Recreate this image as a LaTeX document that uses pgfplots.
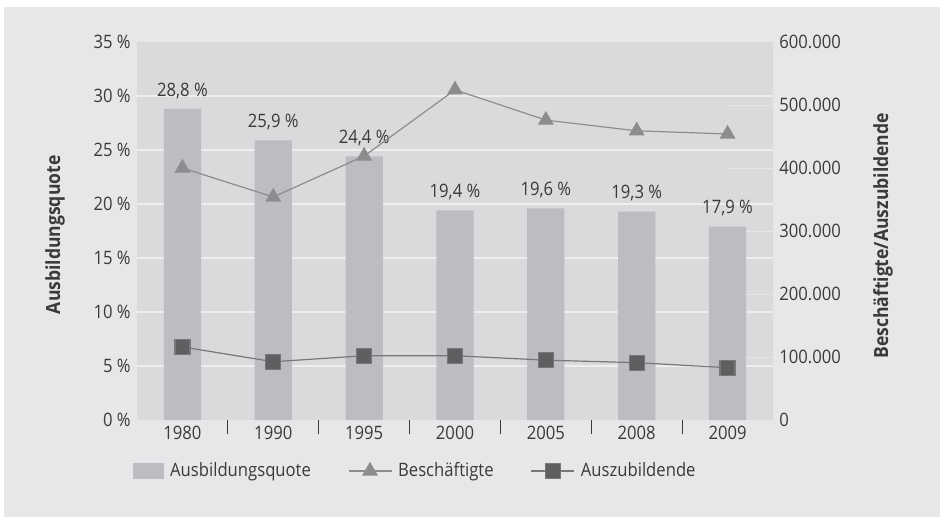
\documentclass[border=0pt]{standalone}
\usepackage{pgfplots}
\pgfplotsset{compat=1.18}
\usepackage{fontspec}
\setmainfont{Open Sans}[FakeStretch=0.9]

\definecolor{outerbg}{HTML}{E6E7E9}
\definecolor{plotbg}{HTML}{D9DADC}
\definecolor{gridc}{HTML}{EDEEF0}
\definecolor{barcol}{HTML}{BCBDC0}
\definecolor{trigray}{HTML}{8D8D8F}
\definecolor{sqgray}{HTML}{5E5F61}
\definecolor{txt}{HTML}{3A3A3A}

\pgfkeys{/pgf/number format/assume math mode=true}
\pgfplotsset{
  every tick label/.append style={text=txt},
  every axis label/.append style={text=txt, font=\fontsize{19.5}{22}\selectfont\bfseries},
  wideline legend/.style={legend image code/.code={%
    \draw[mark repeat=2,mark phase=2,##1] plot coordinates {(0pt,0pt) (21.5pt,0pt) (43pt,0pt)};}},
  bar legend/.style={legend image code/.code={%
    \fill[barcol] (0pt,-8pt) rectangle (31pt,8pt);}},
}

\begin{document}
\fontsize{18.5}{22}\selectfont
\begin{tikzpicture}[x=1pt,y=1pt]
\fill[white] (0,0) rectangle (940,517);
\fill[outerbg] (4,0) rectangle (940,510);
\useasboundingbox (0,0) rectangle (940,517);

% left axis: Ausbildungsquote (bars)
\begin{axis}[
  at={(137pt,97pt)}, anchor=south west,
  width=636pt, height=378pt, scale only axis,
  xmin=-0.5, xmax=6.5, ymin=0, ymax=35,
  axis line style={draw=none},
  axis background/.style={fill=plotbg},
  xtick={0,...,6},
  xticklabels={1980,1990,1995,2000,2005,2008,2009},
  xtick pos=bottom, ytick pos=left,
  major tick length=0pt,
  extra x ticks={0.5,1.5,...,5.5},
  extra x tick labels={},
  extra x tick style={major tick length=14pt, tick align=outside,
    tick style={draw=txt, line width=0.9pt}},
  ytick={0,5,...,35},
  yticklabel={\pgfmathprintnumber{\tick}~\%},
  extra y ticks={5,10,...,30},
  extra y tick labels={},
  extra y tick style={grid=major, major grid style={gridc, line width=1.4pt}},
  ylabel={Ausbildungsquote},
  every axis y label/.style={at={(axis description cs:-0.129,0.49)},
    rotate=90, anchor=center},
  legend columns=3,
  legend style={at={(axis description cs:-0.011,-0.135)}, anchor=west,
    draw=none, fill=none, text=txt,
    /tikz/every even column/.append style={column sep=35pt},
    /tikz/every odd column/.append style={column sep=4pt}},
]
% faint right-scale grid stubs
\draw[gridc!60!plotbg, line width=1pt] (axis cs:5.99,5.8333) -- (axis cs:6.5,5.8333);
\draw[gridc!60!plotbg, line width=1pt] (axis cs:5.99,11.6667) -- (axis cs:6.5,11.6667);
\draw[gridc!60!plotbg, line width=1pt] (axis cs:5.99,17.5) -- (axis cs:6.5,17.5);
\draw[gridc!60!plotbg, line width=1pt] (axis cs:5.99,23.3333) -- (axis cs:6.5,23.3333);
\draw[gridc!60!plotbg, line width=1pt] (axis cs:5.99,29.1667) -- (axis cs:6.5,29.1667);
\addplot[ybar, bar width=0.41, fill=barcol, draw=none, bar legend,
  nodes near coords={\pgfmathprintnumber[fixed,fixed zerofill,precision=1,use comma]{\pgfplotspointmeta}~\%},
  every node near coord/.append style={text=txt, anchor=south, yshift=4pt}]
coordinates {(0,28.8) (1,25.9) (2,24.4) (3,19.4) (4,19.6) (5,19.3) (6,17.9)};
\addlegendentry{Ausbildungsquote}
\addlegendimage{trigray, line width=1.2pt, mark=triangle*, mark size=8pt,
  mark options={draw=none, fill=trigray}, wideline legend}
\addlegendentry{Beschäftigte}
\addlegendimage{sqgray!85!white, line width=1.2pt, mark=square*, mark size=7.5pt,
  mark options={draw=none, fill=sqgray}, wideline legend}
\addlegendentry{Auszubildende}
\end{axis}

% right axis: Beschäftigte / Auszubildende (lines)
\begin{axis}[
  at={(137pt,97pt)}, anchor=south west,
  width=636pt, height=378pt, scale only axis,
  xmin=-0.5, xmax=6.5, ymin=0, ymax=600000,
  axis y line*=right, axis x line=none,
  axis line style={draw=none},
  major tick length=0pt,
  ytick={0,100000,...,600000},
  scaled y ticks=false,
  yticklabel={\pgfmathprintnumber[fixed,precision=0,1000 sep={.}]{\tick}},
  ylabel={Beschäftigte/Auszubildende},
  every axis y label/.style={at={(axis description cs:1.173,0.487)},
    rotate=90, anchor=center},
]
\addplot[trigray, line width=1.2pt, mark=triangle*, mark size=8pt,
  mark options={draw=none, fill=trigray}]
coordinates {(0,400000) (1,354000) (2,419000) (3,524000) (4,476000) (5,459000) (6,454000)};
\addplot[sqgray!85!white, line width=1.2pt, mark=square*, mark size=7.5pt,
  mark options={draw=none, fill=sqgray}]
coordinates {(0,116000) (1,92500) (2,102000) (3,102000) (4,95000) (5,91000) (6,83000)};
\end{axis}
\end{tikzpicture}
\end{document}
